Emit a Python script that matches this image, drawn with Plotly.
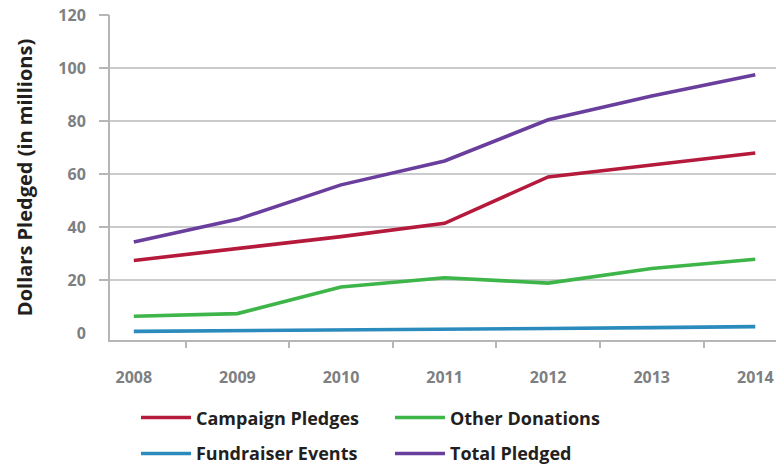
import plotly.graph_objects as go

years = [2008, 2009, 2010, 2011, 2012, 2013, 2014]
campaign_pledges = [27.5, 32.0, 36.5, 41.5, 59.0, 63.5, 68.0]
other_donations = [6.5, 7.5, 17.5, 21.0, 19.0, 24.5, 28.0]
fundraiser_events = [0.8, 1.0, 1.3, 1.6, 1.9, 2.2, 2.6]
total_pledged = [34.5, 43.0, 56.0, 65.0, 80.5, 89.5, 97.5]

y_ticks = [0, 20, 40, 60, 80, 100, 120]
grid_ticks = [20, 40, 60, 80, 100, 120]
x_boundaries = [2008.5, 2009.5, 2010.5, 2011.5, 2012.5, 2013.5]

series = [
    ("Campaign Pledges", campaign_pledges, "#b5193b", "legend"),
    ("Other Donations", other_donations, "#3db549", "legend"),
    ("Fundraiser Events", fundraiser_events, "#2b8bbd", "legend2"),
    ("Total Pledged", total_pledged, "#6a3e9c", "legend2"),
]

FONT = "Open Sans"
fig = go.Figure()

# invisible helper trace so the overlay axes (grid + tick marks) are drawn
fig.add_trace(go.Scatter(x=[None], y=[None], xaxis="x2", yaxis="y2",
                         showlegend=False, hoverinfo="skip", mode="lines"))

for name, vals, color, lg in series:
    fig.add_trace(go.Scatter(
        x=years, y=vals, name=name, mode="lines", legend=lg,
        line=dict(color=color, width=3.6),
    ))

xr = [2007.77, 2014.2]
yr = [-2.45, 120]
axis_col = "#b4b6b8"
leg_font = dict(family=FONT, size=18, color="#231f20", weight="bold")

common_leg = dict(
    orientation="h", x=0.039, xanchor="left", yanchor="top", yref="container",
    entrywidth=189, entrywidthmode="pixels", itemwidth=50,
    font=leg_font, bgcolor="rgba(0,0,0,0)",
)

fig.update_layout(
    width=776, height=467,
    margin=dict(l=110, r=0, t=15, b=127, autoexpand=False),
    paper_bgcolor="white", plot_bgcolor="white",
    font=dict(family=FONT, color="#231f20"),
    showlegend=True,
    legend=dict(y=0.145, **common_leg),
    legend2=dict(y=0.068, **common_leg),
    xaxis=dict(
        range=xr, tickvals=years, ticktext=[str(y) for y in years],
        showgrid=False, zeroline=False, ticks="",
        showline=True, linecolor=axis_col, linewidth=2,
        tickfont=dict(family=FONT, size=16, color="#7d7f82", weight="bold"),
        ticklabelstandoff=22,
    ),
    xaxis2=dict(
        overlaying="x", anchor="y2", side="bottom", range=xr,
        tickvals=x_boundaries, showticklabels=False, showgrid=False,
        zeroline=False, ticks="outside", ticklen=7, tickwidth=2,
        tickcolor=axis_col, showline=False,
    ),
    yaxis=dict(
        range=yr, tickvals=y_ticks, showgrid=False, zeroline=False,
        ticks="", showline=True, linecolor=axis_col, linewidth=2,
        tickfont=dict(family=FONT, size=16, color="#7d7f82", weight="bold"),
        ticklabelstandoff=19,
        title=dict(text="Dollars Pledged (in millions)", standoff=20,
                   font=dict(family=FONT, size=20, color="#231f20", weight="bold")),
    ),
    yaxis2=dict(
        overlaying="y", anchor="x2", side="left", range=yr,
        tickvals=grid_ticks, showticklabels=False, showgrid=True,
        gridcolor="#c9cbcc", gridwidth=1.6, zeroline=False,
        ticks="outside", ticklen=10, tickwidth=1.6, tickcolor=axis_col,
        showline=False,
    ),
)

fig.write_html("out.html")
